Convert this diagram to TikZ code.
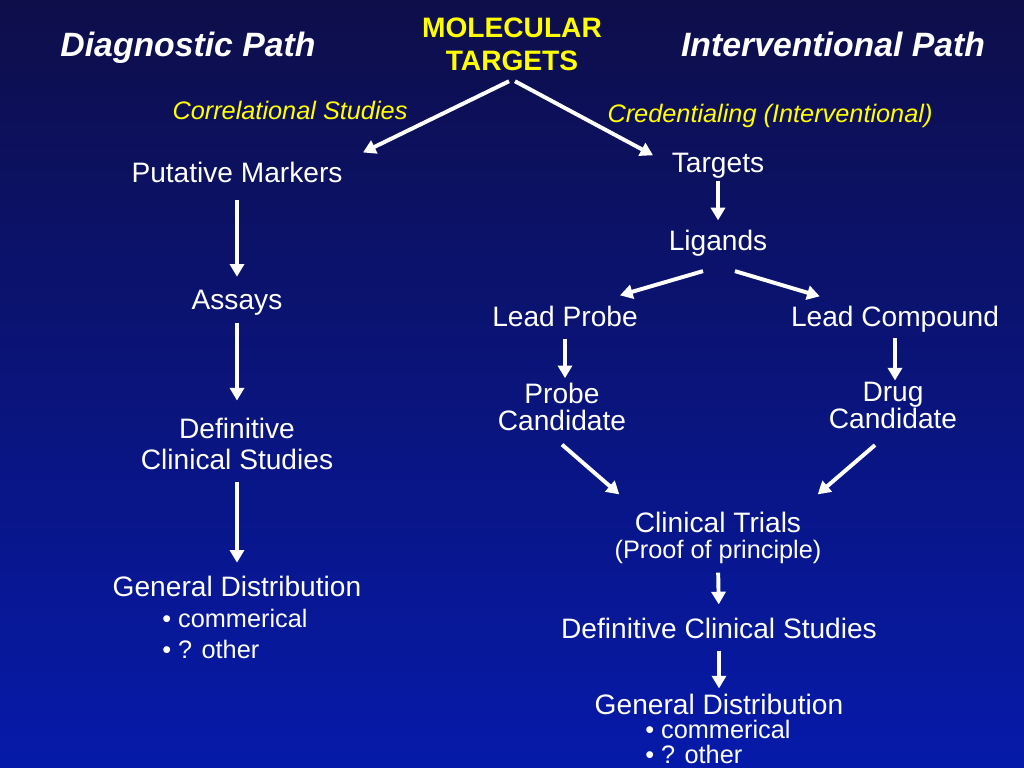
\documentclass[tikz,border=0pt]{standalone}
\usepackage{fontspec}
\setmainfont{Liberation Sans}
\usetikzlibrary{arrows.meta}

\definecolor{slidetop}{RGB}{14,14,74}
\definecolor{slidebottom}{RGB}{6,26,170}
\definecolor{slideyellow}{RGB}{255,255,0}

\begin{document}
\begin{tikzpicture}[
    x=0.025cm, y=-0.025cm,
    stage/.style={text=white, inner sep=0pt, align=center, font=\fontsize{20}{23.5}\selectfont},
    tight/.style={font=\fontsize{20}{19.2}\selectfont},
    note/.style={text=slideyellow, inner sep=0pt, anchor=base, font=\fontsize{18}{21}\selectfont\itshape},
    heading/.style={text=white, inner sep=0pt, anchor=base, font=\fontsize{24}{28}\selectfont\bfseries\itshape},
    bullets/.style={text=white, inner sep=0pt, align=left, anchor=north west},
    flow/.style={-{Triangle[width=10pt, length=9pt]}, white, line width=2.8pt}
]
% ======================
% Background
% ======================
\shade[top color=slidetop, bottom color=slidebottom] (0,0) rectangle (1024,768);

% ======================
% Headings
% ======================
\node[heading] (diag) at (188,57) {Diagnostic Path};
\node[heading] (interv) at (833,57) {Interventional Path};
\node[stage, text=slideyellow, font=\fontsize{20}{23.5}\selectfont\bfseries] (mt) at (512,44.5) {MOLECULAR\\TARGETS};

\node[note] (corr) at (290,120) {Correlational Studies};
\node[note] (cred) at (770,123) {Credentialing (Interventional)};

% ======================
% Diagnostic column
% ======================
\node[stage, anchor=base] (markers) at (237,183) {Putative Markers};
\node[stage, anchor=base] (assays) at (237,309) {Assays};
\node[stage, font=\fontsize{20}{22}\selectfont] (defl) at (237,443.5) {Definitive\\Clinical Studies};
\node[stage, anchor=base] (genl) at (237,596) {General Distribution};
\node[bullets, font=\fontsize{18}{22}\selectfont] (listl) at (162,609) {• commerical\\• ? other};

% ======================
% Interventional column
% ======================
\node[stage, anchor=base] (targets) at (718,172) {Targets};
\node[stage, anchor=base] (ligands) at (718,250) {Ligands};
\node[stage, anchor=base] (probe) at (565,326) {Lead Probe};
\node[stage, anchor=base] (compound) at (895,326) {Lead Compound};
\node[stage, tight] (probecand) at (562,406.5) {Probe\\Candidate};
\node[stage, tight] (drugcand) at (893,405.5) {Drug\\Candidate};
\node[stage, font=\fontsize{20}{18.5}\selectfont] (trials) at (718,537.5)
    {Clinical Trials\\{\fontsize{18}{18.5}\selectfont(Proof of principle)}};
\node[stage, anchor=base] (defr) at (719,638) {Definitive Clinical Studies};
\node[stage, anchor=base] (genr) at (719,714) {General Distribution};
\node[bullets, font=\fontsize{18}{17.5}\selectfont] (listr) at (645,720) {• commerical\\• ? other};

% ======================
% Connections
% ======================
\draw[flow, shorten >=16pt] ([shift={(-3,10)}]mt.south) -- (markers.north east);
\draw[flow, shorten >=15pt] ([shift={(3,10)}]mt.south) -- (targets.west);

\draw[flow, shorten <=12pt, shorten >=9pt] (markers.south) -- (assays.north);
\draw[flow, shorten <=5.7pt, shorten >=12pt] (assays.south) -- (defl.north);
\draw[flow, shorten <=9pt, shorten >=9pt] (defl.south) -- (genl.north);

\draw[flow, shorten <=2pt, shorten >=6.4pt] (targets.south) -- (ligands.north);
\draw[flow] ([shift={(-15,15)}]ligands.south) -- ([shift={(-18,-10)}]probe.north east);
\draw[flow] ([shift={(17,15)}]ligands.south) -- ([shift={(29,-9)}]compound.north west);
\draw[flow, shorten <=8.5pt, shorten >=3pt] (probe.south) -- (probe.south |- probecand.north);
\draw[flow, shorten <=4.3pt, shorten >=1pt] (compound.south) -- (compound.south |- drugcand.north);
\draw[flow] ([shift={(0,14)}]probecand.south) -- ([shift={(5,-17)}]trials.north west);
\draw[flow] ([shift={(-18,16)}]drugcand.south) -- ([shift={(-4,-17)}]trials.north east);
\draw[flow, shorten <=6.4pt, shorten >=9.2pt] (trials.south) -- (defr.north);
\draw[flow, shorten <=8.5pt, shorten >=3.5pt] (defr.south) -- (genr.north);

\end{tikzpicture}
\end{document}
